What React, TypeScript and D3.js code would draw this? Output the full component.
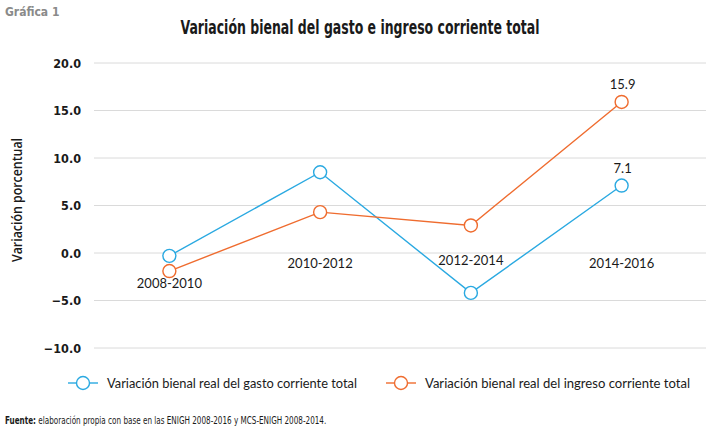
import React from "react";
import * as d3 from "d3";

const categories = ["2008-2010", "2010-2012", "2012-2014", "2014-2016"];
const gasto = [-0.3, 8.5, -4.2, 7.1];
const ingreso = [-1.9, 4.3, 2.9, 15.9];
const yTicks = [20, 15, 10, 5, 0, -5, -10];
const seriesNames = [
  "Variación bienal real del gasto corriente total",
  "Variación bienal real del ingreso corriente total",
];
const labelledIndex = 3;

const W = 706;
const H = 428;
const BLUE = "#2aa9e1";
const ORANGE = "#ef6c2f";
const COND = "'DejaVu Sans Condensed', 'Liberation Sans Narrow', 'DejaVu Sans', sans-serif";
const BODY = "Lato, 'Open Sans', sans-serif";

export default function App() {
  const x = d3.scaleBand<string>().domain(categories).range([94, 697]).padding(0);
  const y = d3.scaleLinear().domain([-10, 20]).range([348, 63]);
  const cx = (c: string) => (x(c) as number) + x.bandwidth() / 2;
  const line = d3
    .line<number>()
    .x((_, i) => cx(categories[i]))
    .y((v) => y(v));
  const catDy = [35, 15, 12, 15];
  const series = [
    { name: seriesNames[0], values: gasto, color: BLUE, len: 250 },
    { name: seriesNames[1], values: ingreso, color: ORANGE, len: 265 },
  ];
  const legendX = [68, 386];
  return (
    <svg width={W} height={H} style={{ position: "absolute", left: 0, top: 0, background: "#fff" }}>
      <text x={5} y={16} fontFamily={COND} fontWeight="bold" fontSize={12} fill="#8a8a8a">
        Gráfica 1
      </text>
      <text x={360} y={34} textAnchor="middle" fontFamily={COND} fontWeight="bold" fontSize={19} fill="#1a1a1a" textLength={359} lengthAdjust="spacingAndGlyphs">
        Variación bienal del gasto e ingreso corriente total
      </text>
      {yTicks.map((t) => (
        <g key={t}>
          <line x1={94} x2={706} y1={y(t)} y2={y(t)} stroke="#dadada" strokeWidth={1} />
          <text x={81} y={y(t) + 4.5} textAnchor="end" fontFamily={COND} fontWeight="bold" fontSize={12.5} fill="#1a1a1a">
            {d3.format(".1f")(t)}
          </text>
        </g>
      ))}
      <text
        transform={`translate(22,200) rotate(-90)`}
        textAnchor="middle"
        fontFamily={"'Open Sans', sans-serif"}
        fontWeight={600}
        fontSize={15}
        fill="#1a1a1a"
        textLength={124}
        lengthAdjust="spacingAndGlyphs"
      >
        Variación porcentual
      </text>
      {categories.map((c, i) => (
        <text key={c} x={cx(c)} y={y(0) + catDy[i]} textAnchor="middle" fontFamily={BODY} fontSize={13} fill="#1a1a1a">
          {c}
        </text>
      ))}
      {series.map((s) => (
        <g key={s.name}>
          <path d={line(s.values) || ""} fill="none" stroke={s.color} strokeWidth={1.4} />
          {s.values.map((v, i) => (
            <circle key={i} cx={cx(categories[i])} cy={y(v)} r={6.5} fill="#fff" stroke={s.color} strokeWidth={1.4} />
          ))}
          <text x={cx(categories[labelledIndex]) + 1} y={y(s.values[labelledIndex]) - 12.5} textAnchor="middle" fontFamily={BODY} fontSize={13} fill="#1a1a1a">
            {d3.format(".1f")(s.values[labelledIndex])}
          </text>
        </g>
      ))}
      {series.map((s, k) => (
        <g key={"lg" + k} transform={`translate(${legendX[k]},383)`}>
          <line x1={0} x2={30} y1={0} y2={0} stroke={s.color} strokeWidth={1.4} />
          <circle cx={15} cy={0} r={6.5} fill="#fff" stroke={s.color} strokeWidth={1.4} />
          <text x={39} y={4.5} fontFamily={BODY} fontSize={13.5} fill="#1a1a1a" textLength={s.len} lengthAdjust="spacingAndGlyphs">
            {s.name}
          </text>
        </g>
      ))}
      <text transform="translate(5,424) scale(0.767,1)" fontFamily={COND} fontSize={10.5} fill="#1a1a1a">
        <tspan fontWeight="bold">Fuente:</tspan> elaboración propia con base en las ENIGH 2008-2016 y MCS-ENIGH 2008-2014.
      </text>
    </svg>
  );
}
